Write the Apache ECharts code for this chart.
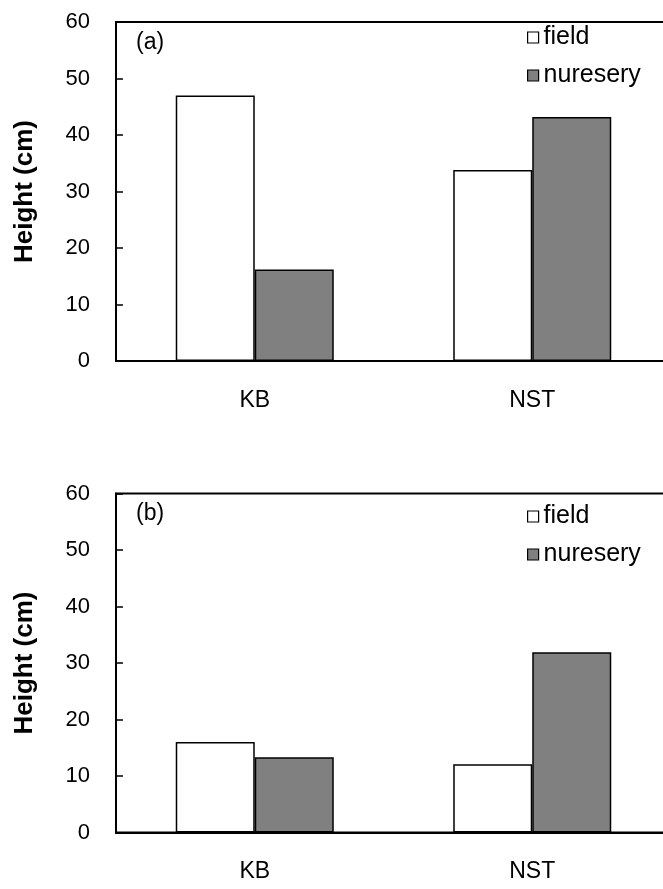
<!DOCTYPE html>
<html>
<head>
<meta charset="utf-8">
<script src="https://cdn.jsdelivr.net/npm/echarts@6/dist/echarts.min.js"></script>
<style>
  html, body { margin: 0; padding: 0; background: #fff; overflow: hidden; }
  /* the plot frame runs past the right edge of the page */
  #chart { width: 690px; height: 889px; }
</style>
</head>
<body>
<div id="chart"></div>
<script>
// Plant height by site, two sampling panels
const categories = ['KB', 'NST'];
const seriesNames = ['field', 'nuresery'];
const panelLabels = ['(a)', '(b)'];
const fieldA = [47.0, 33.8];
const nurseryA = [16.2, 43.2];
const fieldB = [16.0, 12.1];
const nurseryB = [13.3, 31.9];
const yTicks = { min: 0, max: 60, interval: 10 };
const yName = 'Height (cm)';

const FONT = '"Liberation Sans", Arial, sans-serif';
const panelTops = [22, 493.5];
const plotHeight = 339;
const legendTops = [23, 502];

const grids = panelTops.map(t => ({
  left: 116, top: t, height: plotHeight, width: 555,
  show: true, borderColor: '#000', borderWidth: 2, backgroundColor: 'transparent'
}));

const xAxes = panelTops.map((t, i) => ({
  type: 'category', gridIndex: i, data: categories,
  axisLine: { lineStyle: { color: '#000', width: 2 } },
  axisTick: { show: false },
  axisLabel: { color: '#000', fontSize: 23, fontFamily: FONT, margin: 28 }
}));

const yAxes = panelTops.map((t, i) => ({
  type: 'value', gridIndex: i,
  min: yTicks.min, max: yTicks.max, interval: yTicks.interval,
  name: yName, nameLocation: 'middle', nameRotate: 90, nameGap: 78,
  nameTextStyle: { color: '#000', fontSize: 26, fontWeight: 'bold', fontFamily: FONT },
  axisLine: { show: true, lineStyle: { color: '#000', width: 2 } },
  axisTick: { show: true, inside: true, length: 7, lineStyle: { color: '#000', width: 1.5 } },
  axisLabel: { color: '#000', fontSize: 22, fontFamily: FONT, margin: 26 },
  splitLine: { show: false }
}));

function bars(name, data, idx, color) {
  return {
    name: name, type: 'bar', xAxisIndex: idx, yAxisIndex: idx,
    data: data, barWidth: 79, barGap: '0%',
    itemStyle: { color: color, borderColor: '#000', borderWidth: 1.5 },
    emphasis: { disabled: true }
  };
}

const series = [
  bars(seriesNames[0], fieldA, 0, '#ffffff'),
  bars(seriesNames[1], nurseryA, 0, '#808080'),
  bars(seriesNames[0], fieldB, 1, '#ffffff'),
  bars(seriesNames[1], nurseryB, 1, '#808080')
];

const legends = legendTops.map(t => ({
  data: seriesNames, orient: 'vertical', left: 527, top: t, padding: 0,
  icon: 'rect', itemWidth: 11, itemHeight: 11, itemGap: 9,
  itemStyle: { borderColor: '#000', borderWidth: 1.2 },
  textStyle: { color: '#000', fontSize: 25, fontFamily: FONT, lineHeight: 24, padding: [5, 0, 0, 0] },
  selectedMode: false
}));

const labels = panelLabels.map((txt, i) => ({
  type: 'text', left: 136, top: panelTops[i] + 9,
  style: { text: txt, fill: '#000', font: '23px ' + FONT }
}));

const chart = echarts.init(document.getElementById('chart'), null, { renderer: 'canvas' });
chart.setOption({
  animation: false,
  backgroundColor: '#fff',
  grid: grids,
  xAxis: xAxes,
  yAxis: yAxes,
  legend: legends,
  graphic: labels,
  series: series
});
</script>
</body>
</html>
